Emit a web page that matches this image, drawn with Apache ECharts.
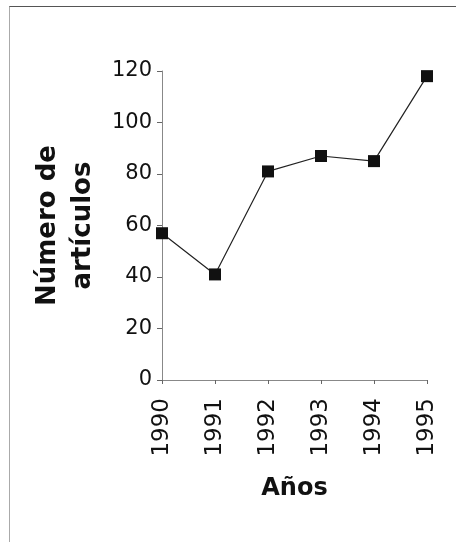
<!DOCTYPE html>
<html>
<head>
<meta charset="utf-8">
<script src="https://cdn.jsdelivr.net/npm/echarts/dist/echarts.min.js"></script>
<style>
  html, body { margin: 0; padding: 0; background: #fff; }
  #frame { position: absolute; left: 9px; top: 6px; width: 447px; height: 536px;
           border-top: 1px solid #555; border-left: 1px solid #aaa; box-sizing: border-box; }
  #chart { position: absolute; left: 0; top: 0; width: 469px; height: 542px; }
</style>
</head>
<body>
<div id="frame"></div>
<div id="chart"></div>
<script>
const years = ['1990', '1991', '1992', '1993', '1994', '1995'];
const articles = [57, 41, 81, 87, 85, 118];
const yTicks = { min: 0, max: 120, interval: 20 };

const chart = echarts.init(document.getElementById('chart'), null, { renderer: 'canvas' });
chart.setOption({
  animation: false,
  backgroundColor: 'transparent',
  grid: { left: 162, right: 42, top: 71, bottom: 162 },
  xAxis: {
    type: 'category',
    data: years,
    boundaryGap: false,
    name: 'Años',
    nameLocation: 'middle',
    nameGap: 97,
    nameTextStyle: { fontFamily: 'DejaVu Sans', fontWeight: 'bold', fontSize: 24, color: '#111' },
    axisLine: { show: true, lineStyle: { color: '#888', width: 1 } },
    axisTick: { show: true, alignWithLabel: true, length: 4, lineStyle: { color: '#666' } },
    axisLabel: { rotate: 90, margin: 18, fontFamily: 'DejaVu Sans', fontSize: 23, color: '#111', interval: 0 },
    splitLine: { show: false }
  },
  yAxis: {
    type: 'value',
    min: yTicks.min, max: yTicks.max, interval: yTicks.interval,
    name: 'Número de\nartículos',
    nameLocation: 'middle',
    nameRotate: 90,
    nameGap: 60,
    nameTextStyle: { fontFamily: 'DejaVu Sans', fontWeight: 'bold', fontSize: 26, color: '#111', lineHeight: 35 },
    axisLine: { show: true, lineStyle: { color: '#888', width: 1 } },
    axisTick: { show: true, length: 5, lineStyle: { color: '#666' } },
    axisLabel: { margin: 10, fontFamily: 'DejaVu Sans', fontSize: 21, color: '#111' },
    splitLine: { show: false }
  },
  series: [{
    type: 'line',
    data: articles,
    symbol: 'rect',
    symbolSize: 12,
    showAllSymbol: true,
    lineStyle: { color: '#222', width: 1.2 },
    itemStyle: { color: '#111', borderWidth: 0 }
  }]
});
</script>
</body>
</html>
